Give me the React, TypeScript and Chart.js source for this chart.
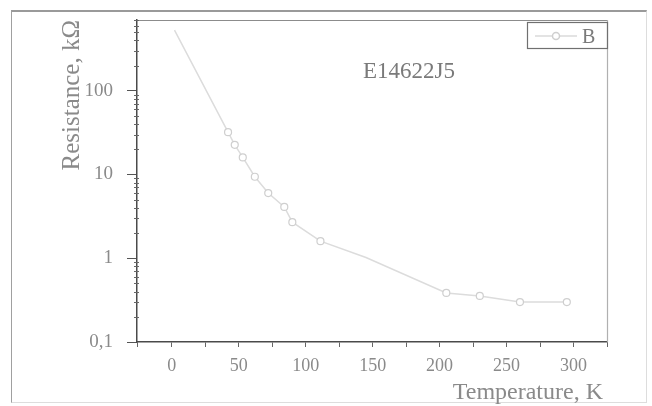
import React, { useEffect, useRef } from "react";
import { Chart, registerables } from "chart.js";

Chart.register(...registerables);

const temperatures = [2, 42, 47, 53, 62, 72, 84, 90, 111, 145, 205, 230, 260, 295];
const resistances = [530, 32, 22.6, 16, 9.4, 6, 4.1, 2.7, 1.6, 1.02, 0.385, 0.355, 0.3, 0.3];
const markerShown = [false, true, true, true, true, true, true, true, true, false, true, true, true, true];
const seriesName = "B";
const sampleLabel = "E14622J5";
const xTitle = "Temperature, K";
const yTitle = "Resistance, kΩ";
const yMajorTicks = [0.1, 1, 10, 100];
const yTickLabels = ["0,1", "1", "10", "100"];

const FONT = "'Liberation Serif', 'Times New Roman', serif";
const TEXT = "#8a8a8a";
const AXIS = "#4a4a4a";

const isMajor = (v: number) => yMajorTicks.some((m) => Math.abs(v - m) / m < 1e-6);

const decorPlugin = {
  id: "decor",
  afterDraw(chart: any) {
    const { ctx, chartArea, scales } = chart;
    const { left, right, top, bottom } = chartArea;
    ctx.save();
    ctx.strokeStyle = "#8c8c8c";
    ctx.lineWidth = 1.2;
    ctx.beginPath();
    ctx.moveTo(left, top + 0.5);
    ctx.lineTo(right, top + 0.5);
    ctx.stroke();
    ctx.strokeStyle = "#b0b0b0";
    ctx.beginPath();
    ctx.moveTo(right + 0.5, top);
    ctx.lineTo(right + 0.5, bottom);
    ctx.stroke();
    const y = scales.y;
    ctx.strokeStyle = "#666";
    ctx.lineWidth = 1;
    for (let e = -1; e <= 2; e++) {
      for (let k = 2; k <= 9; k++) {
        const v = k * Math.pow(10, e);
        if (v > y.max) continue;
        const py = Math.round(y.getPixelForValue(v)) + 0.5;
        ctx.beginPath();
        ctx.moveTo(left - 3, py);
        ctx.lineTo(left + 2, py);
        ctx.stroke();
      }
    }
    ctx.fillStyle = TEXT;
    ctx.font = `24px ${FONT}`;
    ctx.textAlign = "right";
    ctx.textBaseline = "alphabetic";
    ctx.fillText(xTitle, right - 4, 399);
    ctx.save();
    ctx.translate(79, top);
    ctx.rotate(-Math.PI / 2);
    ctx.textAlign = "right";
    ctx.font = `25px ${FONT}`;
    ctx.fillText(yTitle, 0, 0);
    ctx.restore();
    ctx.fillStyle = "#7a7a7a";
    ctx.font = `23px ${FONT}`;
    ctx.textAlign = "left";
    ctx.fillText(sampleLabel, left + 226, top + 58);
    const lx = right - 80;
    const ly = top + 2;
    ctx.strokeStyle = "#707070";
    ctx.lineWidth = 1.2;
    ctx.strokeRect(lx + 0.5, ly + 0.5, 80, 26);
    ctx.strokeStyle = "#dadada";
    ctx.lineWidth = 1.5;
    ctx.beginPath();
    ctx.moveTo(lx + 8, ly + 14);
    ctx.lineTo(lx + 50, ly + 14);
    ctx.stroke();
    ctx.fillStyle = "#fff";
    ctx.strokeStyle = "#cfcfcf";
    ctx.beginPath();
    ctx.arc(lx + 29, ly + 14, 3.5, 0, Math.PI * 2);
    ctx.fill();
    ctx.stroke();
    ctx.fillStyle = "#7a7a7a";
    ctx.font = `20px ${FONT}`;
    ctx.textAlign = "left";
    ctx.fillText(seriesName, lx + 55, ly + 21);
    ctx.restore();
  },
};

export default function App() {
  const ref = useRef<HTMLCanvasElement>(null);
  useEffect(() => {
    if (!ref.current) return;
    const data = temperatures.map((t, i) => ({ x: t, y: resistances[i] }));
    const chart = new Chart(ref.current, {
      type: "scatter",
      data: {
        datasets: [
          {
            label: seriesName,
            data,
            showLine: true,
            borderColor: "#dcdcdc",
            borderWidth: 1.5,
            pointRadius: markerShown.map((m) => (m ? 3.5 : 0)),
            pointBackgroundColor: "#ffffff",
            pointBorderColor: "#cfcfcf",
            pointBorderWidth: 1.2,
          },
        ],
      },
      options: {
        animation: false,
        responsive: false,
        maintainAspectRatio: false,
        layout: { padding: { top: 20, right: 45, left: 0, bottom: 0 } },
        plugins: { legend: { display: false }, tooltip: { enabled: false } },
        scales: {
          x: {
            type: "linear",
            min: -26,
            max: 325,
            afterFit: (s: any) => {
              s.height = 64;
            },
            ticks: {
              stepSize: 25,
              autoSkip: false,
              maxRotation: 0,
              padding: 8,
              color: TEXT,
              font: { family: FONT, size: 18 },
              callback: (v: any) => (Number(v) % 50 === 0 ? String(v) : ""),
            },
            grid: {
              drawOnChartArea: false,
              drawTicks: true,
              tickLength: 5,
              tickColor: "#666",
            },
            border: { color: AXIS, width: 1.5 },
          },
          y: {
            type: "logarithmic",
            min: 0.1,
            max: 700,
            afterFit: (s: any) => {
              s.width = 137;
              s.paddingTop = 0;
              s.paddingBottom = 0;
            },
            ticks: {
              autoSkip: false,
              padding: 14,
              color: TEXT,
              font: { family: FONT, size: 19 },
              callback: (v: any) => {
                const idx = yMajorTicks.findIndex((m) => Math.abs(Number(v) - m) / m < 1e-6);
                return idx >= 0 ? yTickLabels[idx] : "";
              },
            },
            grid: {
              drawOnChartArea: false,
              drawTicks: true,
              tickLength: 10,
              tickColor: (c: any) => (c.tick && isMajor(c.tick.value) ? "#555" : "rgba(0,0,0,0)"),
            },
            border: { color: AXIS, width: 1.5 },
          },
        },
      },
      plugins: [decorPlugin],
    });
    return () => chart.destroy();
  }, []);
  return (
    <div style={{ position: "fixed", left: 0, top: 0, width: 652, height: 406, background: "#fff" }}>
      <div
        style={{
          position: "absolute",
          left: 11,
          top: 10,
          width: 636,
          height: 393,
          borderTop: "2px solid #9a9a9a",
          borderLeft: "1px solid #a0a0a0",
          borderRight: "1px solid #dddddd",
          borderBottom: "1px solid #dddddd",
          boxSizing: "border-box",
        }}
      />
      <canvas ref={ref} width={652} height={406} style={{ position: "absolute", left: 0, top: 0 }} />
    </div>
  );
}
